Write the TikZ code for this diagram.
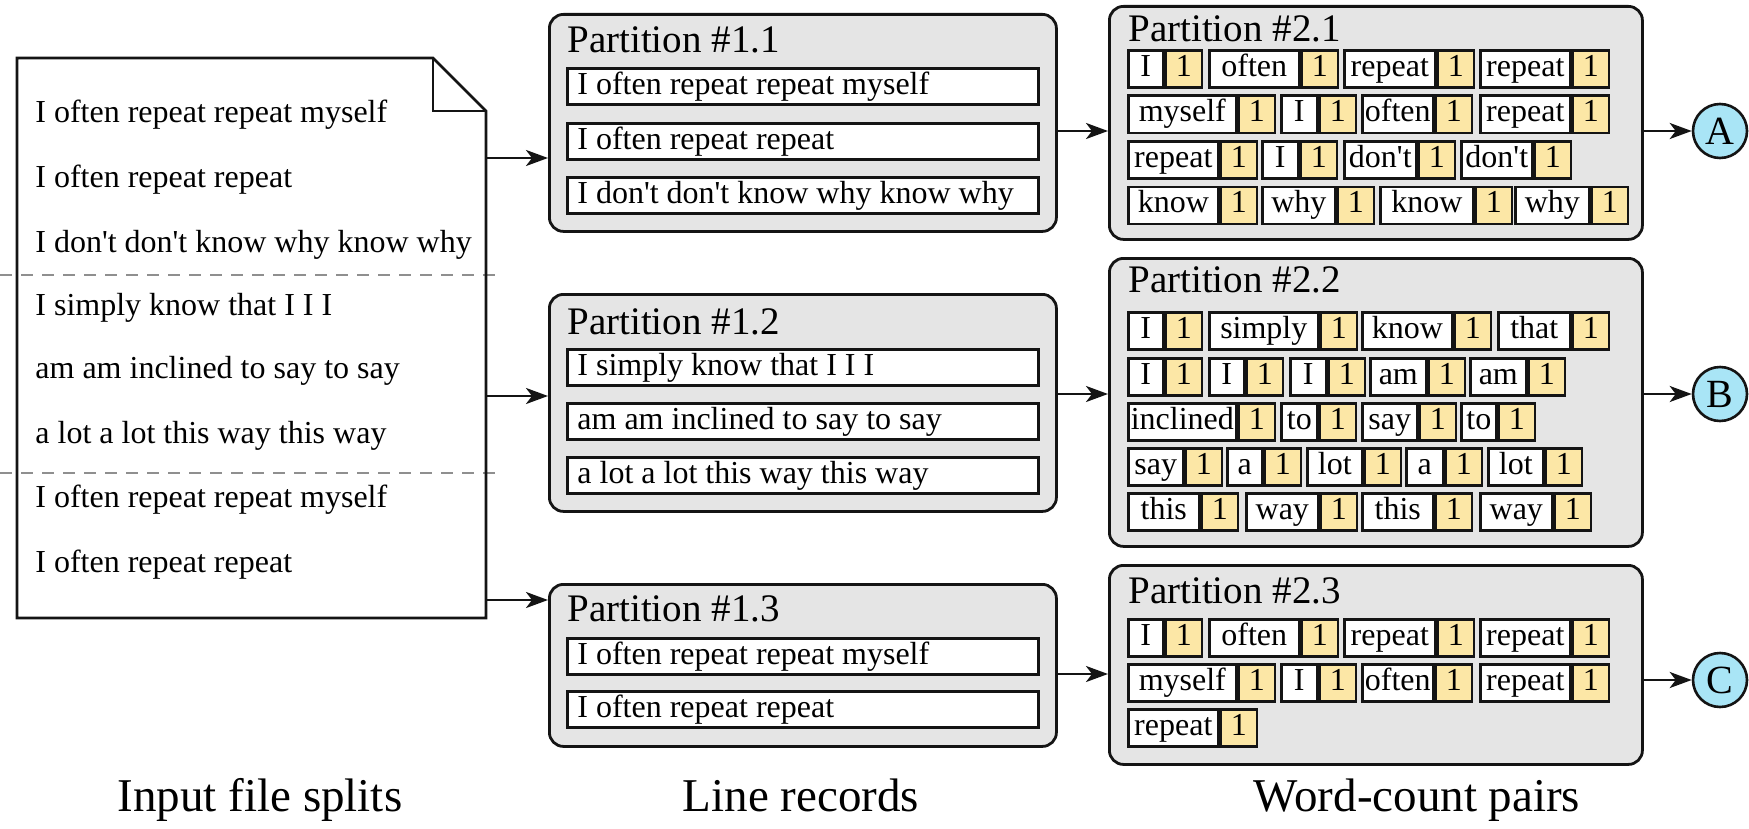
\documentclass[tikz,border=0pt]{standalone}
\usepackage{fontspec}
\setmainfont{Liberation Serif}[Ligatures=TeXOff]
\usetikzlibrary{arrows.meta}
\definecolor{pgray}{HTML}{E5E5E5}
\definecolor{pyellow}{HTML}{FCE7A6}
\definecolor{pcyan}{HTML}{A9E5F6}
\definecolor{dgray}{HTML}{8F8F8F}
\definecolor{ink}{HTML}{141414}
\tikzset{
  arr/.style={-{Stealth[length=11pt,width=8pt,inset=3pt]}, line width=1.3pt, draw=ink},
  part/.style={draw=ink, fill=pgray, line width=1.4pt, rounded corners=7pt, anchor=north west, inner sep=0},
  rec/.style={draw=ink, fill=white, line width=1.4pt, anchor=north west, minimum width=235.5pt, minimum height=18pt, inner sep=0pt},
  rtxt/.style={anchor=west, inner sep=0pt, font=\fontsize{16}{19}\selectfont, text height=11.5pt, text depth=3.5pt},
  ttl/.style={anchor=base west, inner sep=0pt, font=\fontsize{19.5}{23}\selectfont},
  dline/.style={anchor=base west, inner sep=0pt, font=\fontsize{16}{19}\selectfont},
  wbox/.style={draw=ink, fill=white, line width=1.3pt, minimum height=18.5pt, inner sep=0pt,
    font=\fontsize{16}{19}\selectfont, text height=11pt, text depth=3.5pt},
  nbox/.style={wbox, fill=pyellow, minimum width=18pt},
  circ/.style={circle, draw=ink, fill=pcyan, line width=1.3pt, minimum size=27pt, inner sep=0pt, font=\fontsize{20}{24}\selectfont},
  docline/.style={draw=ink, line width=1.4pt, line join=miter},
  dashline/.style={draw=dgray, line width=1.2pt, dash pattern=on 6pt off 4.5pt},
  lbl/.style={anchor=base, inner sep=0pt, font=\fontsize{23.5}{28}\selectfont}
}
\newcommand\wcp[5]{%
  \node[wbox, minimum width=#4*0.5pt, anchor=north west] (#1w) at (#2,#3) {#5};
  \node[nbox, anchor=north west] (#1n) at (#1w.north east) {1};}
\newcommand\recrow[3]{%
  \node[rec] (#1) at (566,#2) {};
  \node[rtxt] (#1t) at ([xshift=5.5pt]#1.west) {#3};}
\begin{document}
\begin{tikzpicture}[x=0.5pt,y=-0.5pt]
\useasboundingbox (0,0) rectangle (1749,829);

% ---------- input document ----------
\node[minimum width=234.5pt, minimum height=280pt, inner sep=0pt, outer sep=0pt, anchor=north west] (doc) at (17,58) {};
\fill[white] (doc.north west) -- ([xshift=-26.5pt]doc.north east) -- ([yshift=-26.5pt]doc.north east) -- (doc.south east) -- (doc.south west) -- cycle;
\draw[dashline] (0,275) -- (498,275);
\draw[dashline] (0,473) -- (498,473);
\draw[docline] (doc.north west) -- ([xshift=-26.5pt]doc.north east) -- ([yshift=-26.5pt]doc.north east) -- (doc.south east) -- (doc.south west) -- cycle;
\draw[docline] ([xshift=-26.5pt]doc.north east) |- ([yshift=-26.5pt]doc.north east);

\node[dline] (d1) at (35,123) {I often repeat repeat myself};
\node[dline] (d2) at (35,187) {I often repeat repeat};
\node[dline] (d3) at (35,252) {I don't don't know why know why};
\node[dline] (d4) at (35,315) {I simply know that I I I};
\node[dline] (d5) at (35,378) {am am inclined to say to say};
\node[dline] (d6) at (35,443) {a lot a lot this way this way};
\node[dline] (d7) at (35,507) {I often repeat repeat myself};
\node[dline] (d8) at (35,572) {I often repeat repeat};

% ---------- line records ----------
\node[part, minimum width=253.5pt, minimum height=108.5pt] (p11) at (548,13) {};
\node[ttl] (t11) at (567,53) {Partition \#1.1};
\recrow{r111}{67}{I often repeat repeat myself}
\recrow{r112}{122}{I often repeat repeat}
\recrow{r113}{176}{I don't don't know why know why}

\node[part, minimum width=253.5pt, minimum height=108.5pt] (p12) at (548,293) {};
\node[ttl] (t12) at (567,334) {Partition \#1.2};
\recrow{r121}{348}{I simply know that I I I}
\recrow{r122}{402}{am am inclined to say to say}
\recrow{r123}{456}{a lot a lot this way this way}

\node[part, minimum width=253.5pt, minimum height=81pt] (p13) at (548,583) {};
\node[ttl] (t13) at (567,621) {Partition \#1.3};
\recrow{r131}{637}{I often repeat repeat myself}
\recrow{r132}{690}{I often repeat repeat}

% ---------- word-count pairs ----------
\node[part, minimum width=266.5pt, minimum height=116.5pt] (p21) at (1108,5) {};
\node[ttl] (t21) at (1128,42) {Partition \#2.1};
\wcp{a11}{1127}{49}{35}{I}
\wcp{a12}{1208}{49}{90}{often}
\wcp{a13}{1343}{49}{91}{repeat}
\wcp{a14}{1479}{49}{90}{repeat}
\wcp{a21}{1127}{94.5}{108}{myself}
\wcp{a22}{1280}{94.5}{36}{I}
\wcp{a23}{1361}{94.5}{71}{often}
\wcp{a24}{1479}{94.5}{90}{repeat}
\wcp{a31}{1127}{140}{90}{repeat}
\wcp{a32}{1261}{140}{36}{I}
\wcp{a33}{1343}{140}{72}{don't}
\wcp{a34}{1460}{140}{71}{don't}
\wcp{a41}{1127}{185.5}{90}{know}
\wcp{a42}{1261}{185.5}{73}{why}
\wcp{a43}{1379}{185.5}{93}{know}
\wcp{a44}{1514}{185.5}{74}{why}

\node[part, minimum width=266.5pt, minimum height=144pt] (p22) at (1108,257) {};
\node[ttl] (t22) at (1128,292) {Partition \#2.2};
\wcp{b11}{1127}{311}{35}{I}
\wcp{b12}{1208}{311}{109}{simply}
\wcp{b13}{1361}{311}{90}{know}
\wcp{b14}{1497}{311}{72}{that}
\wcp{b21}{1127}{357}{35}{I}
\wcp{b22}{1208}{357}{35}{I}
\wcp{b23}{1289}{357}{36}{I}
\wcp{b24}{1369}{357}{56}{am}
\wcp{b25}{1469}{357}{56}{am}
\wcp{b31}{1127}{402}{108}{inclined}
\wcp{b32}{1280}{402}{36}{to}
\wcp{b33}{1361}{402}{55}{say}
\wcp{b34}{1460}{402}{35}{to}
\wcp{b41}{1127}{447}{55}{say}
\wcp{b42}{1226}{447}{35}{a}
\wcp{b43}{1306}{447}{55}{lot}
\wcp{b44}{1405}{447}{37}{a}
\wcp{b45}{1487}{447}{55}{lot}
\wcp{b51}{1127}{492}{71}{this}
\wcp{b52}{1245}{492}{72}{way}
\wcp{b53}{1361}{492}{71}{this}
\wcp{b54}{1479}{492}{72}{way}

\node[part, minimum width=266.5pt, minimum height=99.5pt] (p23) at (1108,564) {};
\node[ttl] (t23) at (1128,603) {Partition \#2.3};
\wcp{c11}{1127}{618}{35}{I}
\wcp{c12}{1208}{618}{90}{often}
\wcp{c13}{1343}{618}{91}{repeat}
\wcp{c14}{1479}{618}{90}{repeat}
\wcp{c21}{1127}{663}{108}{myself}
\wcp{c22}{1280}{663}{36}{I}
\wcp{c23}{1361}{663}{71}{often}
\wcp{c24}{1479}{663}{90}{repeat}
\wcp{c31}{1127}{708}{90}{repeat}

% ---------- output circles ----------
\node[circ] (cA) at (1720,131) {A};
\node[circ] (cB) at (1720,394) {B};
\node[circ] (cC) at (1720,680) {C};

% ---------- connectors ----------
\coordinate (y1) at (0,158);
\coordinate (y2) at (0,396);
\coordinate (y3) at (0,600);
\coordinate (y6) at (0,674);
\draw[arr] (doc.east |- y1) -- (p11.west |- y1);
\draw[arr] (doc.east |- y2) -- (p12.west |- y2);
\draw[arr] (doc.east |- y3) -- (p13.west |- y3);
\draw[arr] (p11.east |- cA) -- (p21.west |- cA);
\draw[arr] (p12.east |- cB) -- (p22.west |- cB);
\draw[arr] (p13.east |- y6) -- (p23.west |- y6);
\draw[arr] (p21.east |- cA) -- (cA);
\draw[arr] (p22.east |- cB) -- (cB);
\draw[arr] (p23.east |- cC) -- (cC);

% ---------- captions ----------
\node[lbl] (L1) at (260,811) {Input file splits};
\node[lbl] (L2) at (801,811) {Line records};
\node[lbl] (L3) at (1417,811) {Word-count pairs};
\end{tikzpicture}
\end{document}
